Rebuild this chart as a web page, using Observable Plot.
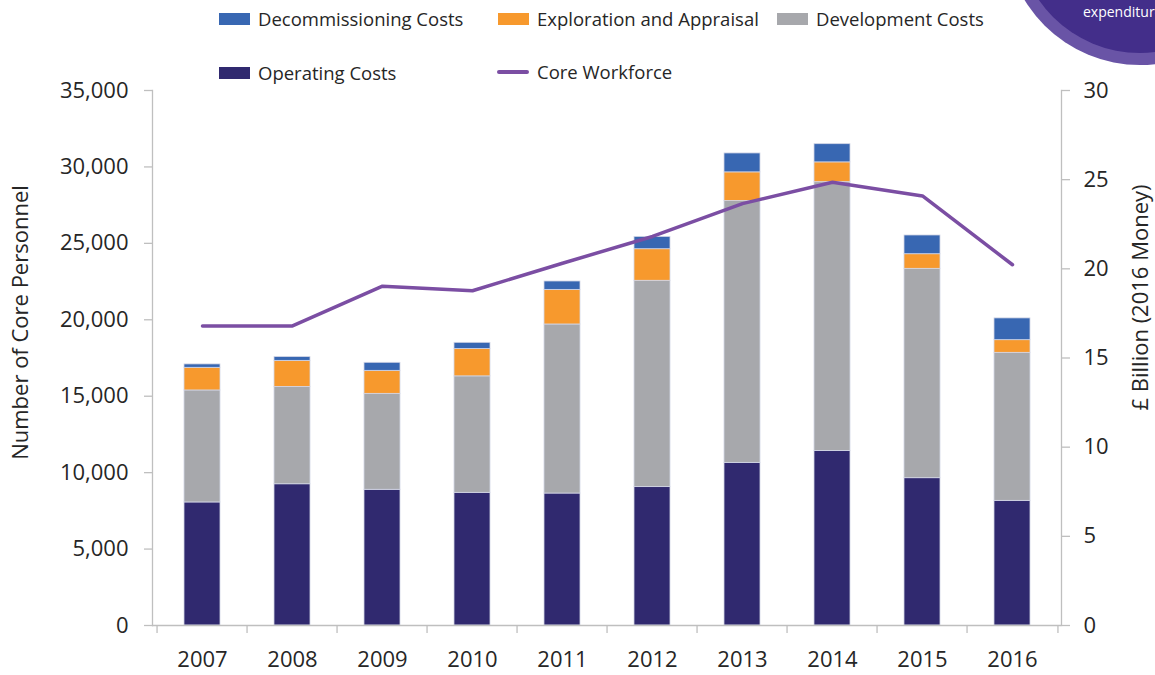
<!DOCTYPE html>
<html>
<head>
<meta charset="utf-8">
<script src="https://cdn.jsdelivr.net/npm/d3@7"></script>
<script src="https://cdn.jsdelivr.net/npm/@observablehq/plot@0.6"></script>
<style>
  body { margin: 0; background: #fff; font-family: "Open Sans", sans-serif; }
  #wrap { position: relative; width: 1155px; height: 675px; overflow: hidden; }
  #wrap > svg.plot { position: absolute; left: 0; top: 0; }
  #legend { position: absolute; left: 0; top: 0; width: 1155px; height: 90px; }
  .item { position: absolute; display: flex; align-items: center; font-size: 18.5px; line-height: 1; color: #262626; white-space: nowrap; }
  .sw { width: 31px; height: 12px; margin-right: 8px; }
  .ln { width: 32px; height: 4px; margin-right: 8px; border-radius: 2px; }
  #badge { position: absolute; left: 0; top: 0; }
</style>
</head>
<body>
<div id="wrap">
  <div id="legend"></div>
  <svg id="badge" width="1155" height="90"></svg>
</div>
<script>
// ---- data ----
const years = ["2007","2008","2009","2010","2011","2012","2013","2014","2015","2016"];
const operatingCosts      = [6.90, 7.92, 7.61, 7.44, 7.40, 7.76, 9.12, 9.79, 8.26, 6.99];
const developmentCosts    = [6.28, 5.46, 5.38, 6.53, 9.48, 11.57, 14.68, 15.07, 11.74, 8.30];
const explorationAppraisal= [1.27, 1.46, 1.29, 1.53, 1.94, 1.77, 1.61, 1.11, 0.82, 0.71];
const decommissioningCosts= [0.19, 0.21, 0.45, 0.35, 0.47, 0.69, 1.06, 1.02, 1.05, 1.22];
const coreWorkforce       = [19600, 19600, 22200, 21900, 23700, 25450, 27600, 29000, 28100, 23600];
const seriesNames  = ["Operating Costs", "Development Costs", "Exploration and Appraisal", "Decommissioning Costs"];
const seriesValues = [operatingCosts, developmentCosts, explorationAppraisal, decommissioningCosts];
const seriesColors = ["#30296F", "#A7A8AC", "#F7992D", "#3867B2"];
const lineName = "Core Workforce";
const lineColor = "#7B4EA3";
const leftTicks  = [0, 5000, 10000, 15000, 20000, 25000, 30000, 35000];
const rightTicks = [0, 5, 10, 15, 20, 25, 30];
const leftMax = 35000, rightMax = 30;

// ---- layout ----
const W = 1155, H = 675, mL = 152, mR = 94, mT = 90, mB = 50;
const step = (W - mL - mR) / years.length;
const gray = "#BFBFBF", ink = "#262626";
const toBn = v => v * rightMax / leftMax;

const rows = [];
years.forEach((y, i) => seriesNames.forEach((s, k) => rows.push({year: y, series: s, value: seriesValues[k][i]})));
const lineRows = years.map((y, i) => ({year: y, workforce: coreWorkforce[i]}));

const plot = Plot.plot({
  width: W, height: H,
  marginLeft: mL, marginRight: mR, marginTop: mT, marginBottom: mB,
  style: {fontFamily: "Open Sans", background: "transparent", color: ink},
  x: {type: "band", domain: years, paddingInner: 0.6, paddingOuter: 0.3, axis: null},
  y: {domain: [0, rightMax], axis: null},
  color: {domain: seriesNames, range: seriesColors},
  marks: [
    Plot.barY(rows, {x: "year", y: "value", fill: "series", stroke: "#d3d6e6", strokeWidth: 0.8}),
    Plot.line(lineRows, {x: "year", y: d => toBn(d.workforce), stroke: lineColor, strokeWidth: 3.5, strokeLinejoin: "miter"}),
    Plot.ruleY([0], {stroke: gray, strokeWidth: 1.3}),
    Plot.frame({anchor: "left", stroke: gray, strokeWidth: 1.3}),
    Plot.frame({anchor: "right", stroke: gray, strokeWidth: 1.3}),
    Plot.axisY({anchor: "left", ticks: leftTicks.map(toBn), tickFormat: v => d3.format(",")(Math.round(v * leftMax / rightMax)),
      tickSize: 8, tickPadding: 16, fontSize: 22, stroke: gray, strokeWidth: 1.3, fill: ink, label: null}),
    Plot.axisY({anchor: "right", ticks: rightTicks, tickFormat: d3.format("d"),
      tickSize: 8, tickPadding: 14, fontSize: 22, stroke: gray, strokeWidth: 1.3, fill: ink, label: null}),
    Plot.axisX({ticks: years, tickFormat: () => "", tickSize: 8, dx: -step / 2, stroke: gray, strokeWidth: 1.3, label: null}),
    Plot.axisX({ticks: [years[years.length - 1]], tickFormat: () => "", tickSize: 8, dx: step / 2, stroke: gray, strokeWidth: 1.3, label: null}),
    Plot.axisX({ticks: years, tickSize: 0, tickPadding: 26, fontSize: 22, fill: ink, label: null}),
    Plot.text(["Number of Core Personnel"], {text: d => d, frameAnchor: "left", rotate: -90, dx: 20 - mL, dy: 322 - (mT + (H - mT - mB) / 2),
      fontSize: 22, fill: ink, lineAnchor: "middle", textAnchor: "middle"}),
    Plot.text(["£ Billion (2016 Money)"], {text: d => d, frameAnchor: "right", rotate: -90, dx: 1140 - (W - mR), dy: 297 - (mT + (H - mT - mB) / 2),
      fontSize: 22, fill: ink, lineAnchor: "middle", textAnchor: "middle"})
  ]
});
plot.classList.add("plot");
const wrap = document.getElementById("wrap");
wrap.insertBefore(plot, wrap.firstChild);

// ---- legend ----
const legendItems = [
  {label: "Decommissioning Costs", color: seriesColors[3], x: 219, y: 19, kind: "sw"},
  {label: "Exploration and Appraisal", color: seriesColors[2], x: 498, y: 19, kind: "sw"},
  {label: "Development Costs", color: seriesColors[1], x: 777, y: 19, kind: "sw"},
  {label: "Operating Costs", color: seriesColors[0], x: 219, y: 73, kind: "sw"},
  {label: lineName, color: lineColor, x: 497, y: 72, kind: "ln"}
];
const legend = d3.select("#legend");
legendItems.forEach(it => {
  const d = legend.append("div").attr("class", "item")
    .style("left", it.x + "px").style("top", (it.y - 12) + "px").style("height", "24px");
  d.append("span").attr("class", it.kind).style("background", it.color).style("display", "inline-block");
  d.append("span").text(it.label);
});

// ---- corner badge ----
const badge = d3.select("#badge");
badge.append("circle").attr("cx", 1140).attr("cy", -70).attr("r", 135).attr("fill", "#6954A6");
badge.append("circle").attr("cx", 1140).attr("cy", -70).attr("r", 123).attr("fill", "#432E8A");
badge.append("text").attr("x", 1083).attr("y", 17).attr("fill", "#fff")
  .attr("font-family", "Open Sans").attr("font-size", 14).text("expenditure");
</script>
</body>
</html>
